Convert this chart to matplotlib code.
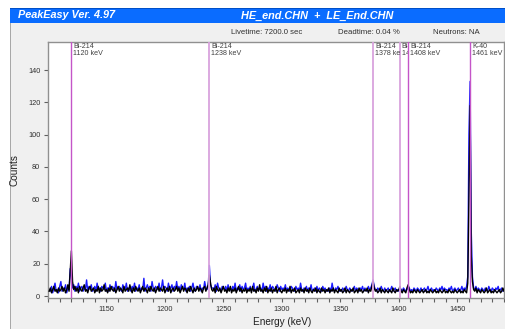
"""PeakEasy spectrum view: HE_end.CHN + LE_End.CHN, 1100-1490 keV."""
import matplotlib
matplotlib.use('Agg')
import matplotlib.pyplot as plt
import numpy as np
from matplotlib.patches import Rectangle
from matplotlib.transforms import Bbox, TransformedBbox
from matplotlib.ticker import MultipleLocator

plt.rcParams['font.family'] = ['Liberation Sans', 'DejaVu Sans']

W, H = 506, 329

# energy axis, 1 keV per point
E_START, E_STOP = 1101, 1490

# counts (drawn on top)
BLACK_COUNTS = [
    3, 5, 2, 4, 6, 3, 4, 2, 5, 3, 4, 6, 3, 5, 2, 4, 7, 3, 16, 28,
    9, 4, 6, 3, 5, 2, 6, 4, 3, 5, 7, 3, 4, 2, 5, 6, 3, 4, 5, 2,
    4, 3, 6, 2, 5, 3, 4, 7, 3, 4, 2, 5, 3, 6, 4, 3, 5, 2, 4, 6,
    3, 5, 4, 2, 6, 3, 4, 5, 3, 7, 4, 2, 5, 3, 6, 4, 3, 5, 2, 4,
    6, 3, 5, 4, 2, 5, 3, 6, 4, 3, 5, 2, 4, 6, 3, 5, 4, 3, 6, 2,
    4, 5, 3, 6, 2, 4, 5, 3, 4, 6, 3, 5, 2, 4, 6, 3, 5, 4, 2, 5,
    3, 6, 4, 2, 5, 3, 4, 6, 3, 5, 4, 2, 5, 6, 3, 5, 7, 13, 8, 4,
    3, 5, 2, 6, 4, 3, 5, 2, 4, 6, 3, 4, 2, 5, 3, 6, 2, 4, 3, 5,
    2, 4, 6, 3, 5, 2, 4, 3, 5, 2, 4, 3, 5, 2, 6, 3, 4, 2, 5, 3,
    7, 3, 4, 2, 5, 3, 6, 2, 4, 3, 5, 2, 4, 3, 6, 2, 4, 5, 3, 2,
    4, 3, 5, 2, 4, 3, 6, 2, 4, 3, 5, 2, 3, 4, 2, 5, 3, 4, 2, 5,
    3, 4, 2, 5, 3, 2, 4, 3, 5, 2, 4, 3, 2, 5, 3, 4, 2, 4, 3, 5,
    2, 4, 3, 5, 2, 4, 3, 2, 5, 3, 4, 2, 3, 5, 2, 4, 3, 2, 4, 3,
    5, 2, 3, 4, 2, 5, 3, 4, 2, 3, 4, 3, 5, 2, 4, 3, 6, 9, 5, 3,
    4, 2, 3, 5, 2, 4, 3, 2, 4, 3, 2, 4, 3, 2, 5, 3, 2, 4, 3, 4,
    6, 3, 2, 4, 3, 2, 5, 7, 4, 2, 3, 2, 4, 3, 2, 4, 3, 2, 3, 4,
    2, 3, 4, 2, 3, 2, 4, 3, 2, 3, 4, 2, 3, 2, 4, 3, 2, 3, 4, 2,
    3, 2, 4, 3, 2, 3, 2, 4, 3, 2, 3, 4, 2, 3, 2, 4, 3, 2, 8, 60,
    118, 25, 9, 4, 3, 5, 2, 4, 3, 2, 4, 3, 2, 3, 5, 2, 3, 4, 2, 3,
    2, 4, 3, 2, 3, 4, 2, 3, 5, 3,
]

# counts (drawn underneath)
BLUE_COUNTS = [
    4, 3, 6, 2, 5, 8, 3, 4, 2, 6, 9, 3, 5, 4, 7, 2, 5, 4, 17, 12,
    5, 7, 3, 6, 4, 8, 3, 5, 6, 3, 5, 4, 10, 3, 6, 4, 7, 3, 4, 6,
    3, 8, 4, 5, 3, 6, 5, 4, 8, 3, 5, 3, 7, 4, 6, 5, 3, 9, 4, 5,
    6, 4, 3, 7, 5, 4, 8, 3, 5, 4, 3, 6, 4, 8, 3, 5, 4, 7, 3, 5,
    4, 11, 3, 5, 7, 4, 6, 3, 9, 5, 3, 6, 5, 4, 8, 3, 5, 10, 4, 6,
    5, 3, 8, 4, 5, 7, 3, 6, 4, 9, 4, 6, 3, 7, 5, 4, 8, 3, 5, 4,
    6, 3, 5, 8, 4, 3, 6, 5, 4, 7, 3, 5, 4, 9, 5, 4, 6, 19, 7, 5,
    5, 4, 7, 3, 8, 5, 4, 3, 6, 5, 4, 6, 3, 7, 4, 5, 3, 6, 4, 8,
    3, 5, 4, 7, 3, 6, 4, 5, 8, 3, 5, 4, 6, 3, 5, 8, 3, 4, 6, 4,
    4, 5, 3, 8, 4, 6, 3, 5, 4, 7, 3, 6, 5, 4, 3, 7, 5, 3, 6, 4,
    5, 4, 7, 3, 5, 4, 3, 6, 5, 4, 3, 6, 4, 5, 3, 8, 4, 3, 5, 4,
    6, 3, 5, 4, 7, 3, 4, 5, 3, 6, 3, 5, 4, 3, 6, 4, 5, 3, 4, 3,
    5, 3, 8, 4, 3, 5, 4, 6, 3, 4, 3, 5, 4, 3, 6, 4, 3, 5, 4, 3,
    4, 6, 3, 5, 4, 3, 5, 4, 6, 3, 5, 4, 3, 6, 4, 5, 7, 10, 6, 4,
    3, 5, 4, 3, 6, 4, 3, 5, 3, 4, 5, 3, 4, 6, 3, 4, 5, 3, 4, 3,
    5, 4, 3, 5, 4, 3, 4, 6, 5, 3, 4, 3, 5, 4, 3, 5, 4, 3, 5, 3,
    4, 5, 3, 4, 6, 3, 4, 5, 3, 4, 3, 5, 4, 3, 5, 4, 6, 3, 5, 4,
    4, 3, 5, 4, 6, 3, 4, 5, 3, 4, 5, 3, 4, 6, 3, 5, 4, 6, 12, 100,
    133, 40, 12, 5, 4, 6, 3, 5, 4, 3, 5, 4, 3, 5, 4, 3, 6, 4, 3, 5,
    4, 3, 5, 4, 6, 3, 4, 5, 3, 4,
]

# peak markers
MARKER_NAMES = ['Bi-214', 'Bi-214', 'Bi-214', 'Bi-214', 'Bi-214', 'K-40']
MARKER_KEV = [1120, 1238, 1378, 1401, 1408, 1461]

X_MIN, X_MAX = 1100, 1490
Y_MIN, Y_MAX = -1.2, 157.4


def fx(px):
    return px / W


def fy(py):
    return 1 - py / H


def chrome(fig, x0, y_top, w, y_bot, color):
    # window decoration, kept behind the axes
    fig.add_artist(Rectangle((x0, fy(y_bot)), w, fy(y_top) - fy(y_bot),
                             transform=fig.transFigure, facecolor=color,
                             edgecolor='none', zorder=-10))


def main():
    fig = plt.figure(figsize=(W / 100, H / 100), dpi=100)
    fig.patch.set_facecolor('white')

    chrome(fig, fx(10), 23, 1, H, '#f0f0f0')
    chrome(fig, fx(10), 8, fx(1), H, '#a8a8a8')
    chrome(fig, fx(10), 8, 1, 23, '#0a6cff')
    chrome(fig, fx(10), 8, 1, 9, '#0050c8')

    fig.text(fx(18), fy(15.5), 'PeakEasy Ver. 4.97', color='white', fontsize=7.8,
             fontweight='bold', fontstyle='italic', va='center', ha='left')
    fig.text(fx(317), fy(15.5), 'HE_end.CHN  +  LE_End.CHN', color='white',
             fontsize=7.8, fontweight='bold', fontstyle='italic',
             va='center', ha='center')

    info_kw = dict(fontsize=5.6, color='#303030', va='center', ha='center')
    fig.text(fx(267), fy(33), 'Livetime: 7200.0 sec', **info_kw)
    fig.text(fx(369), fy(33), 'Deadtime: 0.04 %', **info_kw)
    fig.text(fx(456), fy(33), 'Neutrons: NA', **info_kw)

    ax = fig.add_axes([fx(48), fy(298), fx(504) - fx(48), fy(42) - fy(298)])
    ax.set_facecolor('white')

    energy = np.arange(E_START, E_STOP + 1)
    ax.plot(energy, BLUE_COUNTS, color='#1a1aff', lw=1.0, zorder=2)
    ax.plot(energy, BLACK_COUNTS, color='black', lw=1.0, zorder=3)

    bounds = MARKER_KEV[1:] + [X_MAX]
    for name, kev, nxt in zip(MARKER_NAMES, MARKER_KEV, bounds):
        light = kev in (1238, 1378, 1401)
        color = '#d9a2dd' if light else '#c455c8'
        ax.axvline(kev, color=color, lw=1.3 if light else 1.0, zorder=4)
        t = ax.text(kev + 1.6, Y_MAX - 0.6, f'{name}\n{kev} keV', fontsize=5.1,
                    color='#404040', va='top', ha='left', linespacing=1.05,
                    zorder=5, clip_on=True)
        # label is cut off where the next marker line starts
        t.set_clip_box(TransformedBbox(Bbox([[kev, Y_MIN], [nxt, Y_MAX]]),
                                       ax.transData))

    ax.set_xlim(X_MIN, X_MAX)
    ax.set_ylim(Y_MIN, Y_MAX)
    ax.xaxis.set_minor_locator(MultipleLocator(10))
    ax.set_xticks(np.arange(1150, 1451, 50))
    ax.set_yticks(np.arange(0, 141, 20))
    ax.tick_params(axis='both', which='major', direction='out', length=3,
                   width=0.8, color='#606060', labelsize=5.3,
                   labelcolor='#303030', pad=2.5)
    ax.tick_params(axis='x', which='minor', direction='out', length=3,
                   width=0.8, color='#606060')
    for side in ['left', 'top', 'right', 'bottom']:
        ax.spines[side].set_color('#909090')
        ax.spines[side].set_linewidth(1.0)

    fig.text(fx(15), fy(170), 'Counts', rotation=90, fontsize=7.2,
             color='#202020', va='center', ha='center')
    fig.text(fx(282), fy(322), 'Energy (keV)', fontsize=7.2, color='#202020',
             va='center', ha='center')

    fig.savefig('out.png', dpi=100)
    plt.close(fig)


if __name__ == '__main__':
    main()
